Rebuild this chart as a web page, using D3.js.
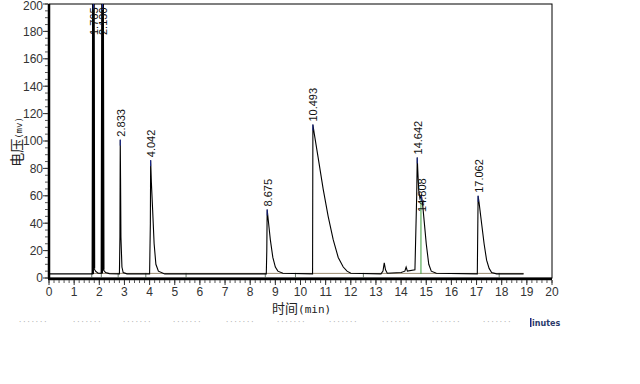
<!DOCTYPE html>
<html><head><meta charset="utf-8">
<script src="https://cdn.jsdelivr.net/npm/d3@7"></script>
<style>body{margin:0;background:#fff}svg{display:block}</style>
</head><body>
<svg id="c" width="640" height="384"></svg>
<script>
// Data
const traceTime  = [0,1.74,1.765,1.79,1.85,1.95,2.10,2.13,2.16,2.25,2.4,2.8,2.82,2.833,2.845,2.86,2.9,2.95,3.1,4.0,4.03,4.042,4.07,4.12,4.18,4.25,4.35,4.6,8.64,8.66,8.675,8.72,8.8,8.9,9.0,9.1,9.3,10.48,10.493,10.55,10.7,10.9,11.1,11.3,11.5,11.7,11.85,12.0,13.2,13.28,13.33,13.38,13.45,14.0,14.15,14.2,14.25,14.55,14.62,14.642,14.66,14.7,14.75,14.808,14.85,14.9,15.0,15.1,15.2,15.4,17.03,17.062,17.1,17.2,17.3,17.4,17.5,17.6,17.8,18.87];
const traceValue = [3,3,260,7,5,3.5,3.5,260,6,4,3.2,3,30,101,73,30,8,4,3,3,40,86,70,50,25,10,5,3,3,20,50,42,28,15,8,5,3.5,3,112,105,88,65,45,28,15,8,5,3.5,3,5,11,6,3.5,4,5,8,5,6,60,88,80,64,58,60,55,45,25,10,5,3.5,3,60,55,40,25,13,7,4,3,3];
const peakTimes  = [1.765,2.130,2.833,4.042,8.675,10.493,14.642,14.808,17.062];
const peakLabels = ["1.765","2.130","2.833","4.042","8.675","10.493","14.642","14.808","17.062"];
const peakHeights= [260,260,101,86,50,112,88,60,60];
const labelValues= [200,200,101,86,50,112,88,46,60];
const markTimes  = [1.7,2.08,2.75,3.85,5.45,8.6,9.8,12.5,17.9];
const baselineValue = 3;
const xTicks = d3.range(0,21,1);
const yTicks = d3.range(0,201,20);

const svg = d3.select("#c");
const L=49, R=552, T=4, B=278;
const x = d3.scaleLinear().domain([0,20]).range([L,R]);
const y = d3.scaleLinear().domain([0,200]).range([B,T]);

svg.append("defs").append("clipPath").attr("id","pc")
  .append("rect").attr("x",L).attr("y",T).attr("width",R-L).attr("height",B-T);

// frame
svg.append("rect").attr("x",L).attr("y",T).attr("width",R-L).attr("height",B-T)
  .attr("fill","none").attr("stroke","#000").attr("stroke-width",1);

const g = svg.append("g").attr("clip-path","url(#pc)");

// integration baseline
g.append("line").attr("x1",x(1.7)).attr("x2",x(18.87))
  .attr("y1",y(baselineValue)-0.5).attr("y2",y(baselineValue)-0.5)
  .attr("stroke","#9a8a70").attr("stroke-width",1);
g.selectAll(".mk").data(markTimes).join("line")
  .attr("x1",d=>x(d)).attr("x2",d=>x(d)).attr("y1",y(0)).attr("y2",y(baselineValue)-1)
  .attr("stroke","#6a7a6a").attr("stroke-width",1);
// drop line between overlapping peaks
g.append("line").attr("x1",x(14.79)).attr("x2",x(14.79)).attr("y1",y(baselineValue)).attr("y2",y(60))
  .attr("stroke","#3a9a3a").attr("stroke-width",1);

// trace
const pts = traceTime.map((t,i)=>[t,traceValue[i]]);
const line = d3.line().x(d=>x(d[0])).y(d=>y(d[1]));
g.append("path").datum(pts).attr("d",line).attr("fill","none").attr("stroke","#000").attr("stroke-width",1.1);
// thick tall peaks
[[1.74,1.765,1.79],[2.10,2.13,2.16]].forEach(ts=>{
  const sub = pts.filter(p=>p[0]>=ts[0]&&p[0]<=ts[2]);
  g.append("path").datum(sub).attr("d",line).attr("fill","none").attr("stroke","#000").attr("stroke-width",2.4);
});
// apex markers
g.selectAll(".ap").data(peakTimes.map((t,i)=>[t,peakHeights[i]])).join("line")
  .attr("x1",d=>x(d[0])).attr("x2",d=>x(d[0])).attr("y1",d=>y(d[1])).attr("y2",d=>Math.max(T,y(d[1]))+6)
  .attr("stroke","#1a2a9a").attr("stroke-width",1);

// peak labels
svg.selectAll(".pl").data(peakTimes.map((t,i)=>({t,l:peakLabels[i],h:labelValues[i]}))).join("text")
  .attr("transform",d=>{const yy=Math.max(y(d.h),T+34)-3; return `translate(${x(d.t)+0.5},${yy}) rotate(-90)`;})
  .attr("dy","0.36em").attr("font-family","Liberation Sans, Arial").attr("font-size",11).attr("fill","#111")
  .text(d=>d.l);

// axes lines
svg.append("line").attr("x1",L).attr("x2",L).attr("y1",T).attr("y2",B+1).attr("stroke","#000").attr("stroke-width",2.5);
svg.append("line").attr("x1",L-1).attr("x2",R).attr("y1",B+1).attr("y2",B+1).attr("stroke","#000").attr("stroke-width",2.5);

// x ticks
const xMinor = d3.range(0,20.01,0.2);
svg.selectAll(".xm").data(xMinor).join("line")
  .attr("x1",d=>x(d)).attr("x2",d=>x(d)).attr("y1",B+2).attr("y2",B+5).attr("stroke","#555");
svg.selectAll(".xM").data(xTicks).join("line")
  .attr("x1",d=>x(d)).attr("x2",d=>x(d)).attr("y1",B+2).attr("y2",B+7).attr("stroke","#333");
svg.selectAll(".xl").data(xTicks).join("text")
  .attr("x",d=>x(d)).attr("y",B+18).attr("text-anchor","middle")
  .attr("font-family","Liberation Sans, Arial").attr("font-size",12).attr("fill","#333").text(d=>d);

// y ticks
const yMinor = d3.range(0,200.1,5);
svg.selectAll(".ym").data(yMinor).join("line")
  .attr("x1",L-4).attr("x2",L-1).attr("y1",d=>y(d)).attr("y2",d=>y(d)).attr("stroke","#555");
svg.selectAll(".yM").data(yTicks).join("line")
  .attr("x1",L-6).attr("x2",L-1).attr("y1",d=>y(d)).attr("y2",d=>y(d)).attr("stroke","#333");
svg.selectAll(".yl").data(yTicks).join("text")
  .attr("x",L-6).attr("y",d=>Math.max(y(d),6)).attr("dy","0.36em").attr("text-anchor","end")
  .attr("font-family","Liberation Sans, Arial").attr("font-size",12).attr("fill","#333").text(d=>d);

// axis titles
const yt = svg.append("text").attr("transform","translate(22,142) rotate(-90)").attr("text-anchor","middle")
  .attr("font-family","Noto Sans CJK SC").attr("fill","#222");
yt.append("tspan").attr("font-size",14).text("电压");
yt.append("tspan").attr("font-size",9).attr("font-family","DejaVu Sans Mono").text("(mv)");
const xt = svg.append("text").attr("x",272).attr("y",313)
  .attr("font-family","Noto Sans CJK SC").attr("fill","#222");
xt.append("tspan").attr("font-size",13).text("时间");
xt.append("tspan").attr("font-size",11).attr("font-family","DejaVu Sans Mono").text("(min)");

// faint footer row
const footX = [18,72,122,172,225,276,328,381,431,482];
svg.selectAll(".ft").data(footX).join("text")
  .attr("x",d=>d).attr("y",324).attr("font-family","DejaVu Sans Mono").attr("font-size",7)
  .attr("fill","#b0b0b0").text("·······");
svg.append("rect").attr("x",530).attr("y",318).attr("width",1.5).attr("height",9).attr("fill","#1a2a8a");
svg.append("text").attr("x",532).attr("y",326).attr("font-family","DejaVu Sans").attr("font-size",8)
  .attr("font-weight","bold").attr("fill","#2a3a6a").text("inutes");
</script>
</body></html>
